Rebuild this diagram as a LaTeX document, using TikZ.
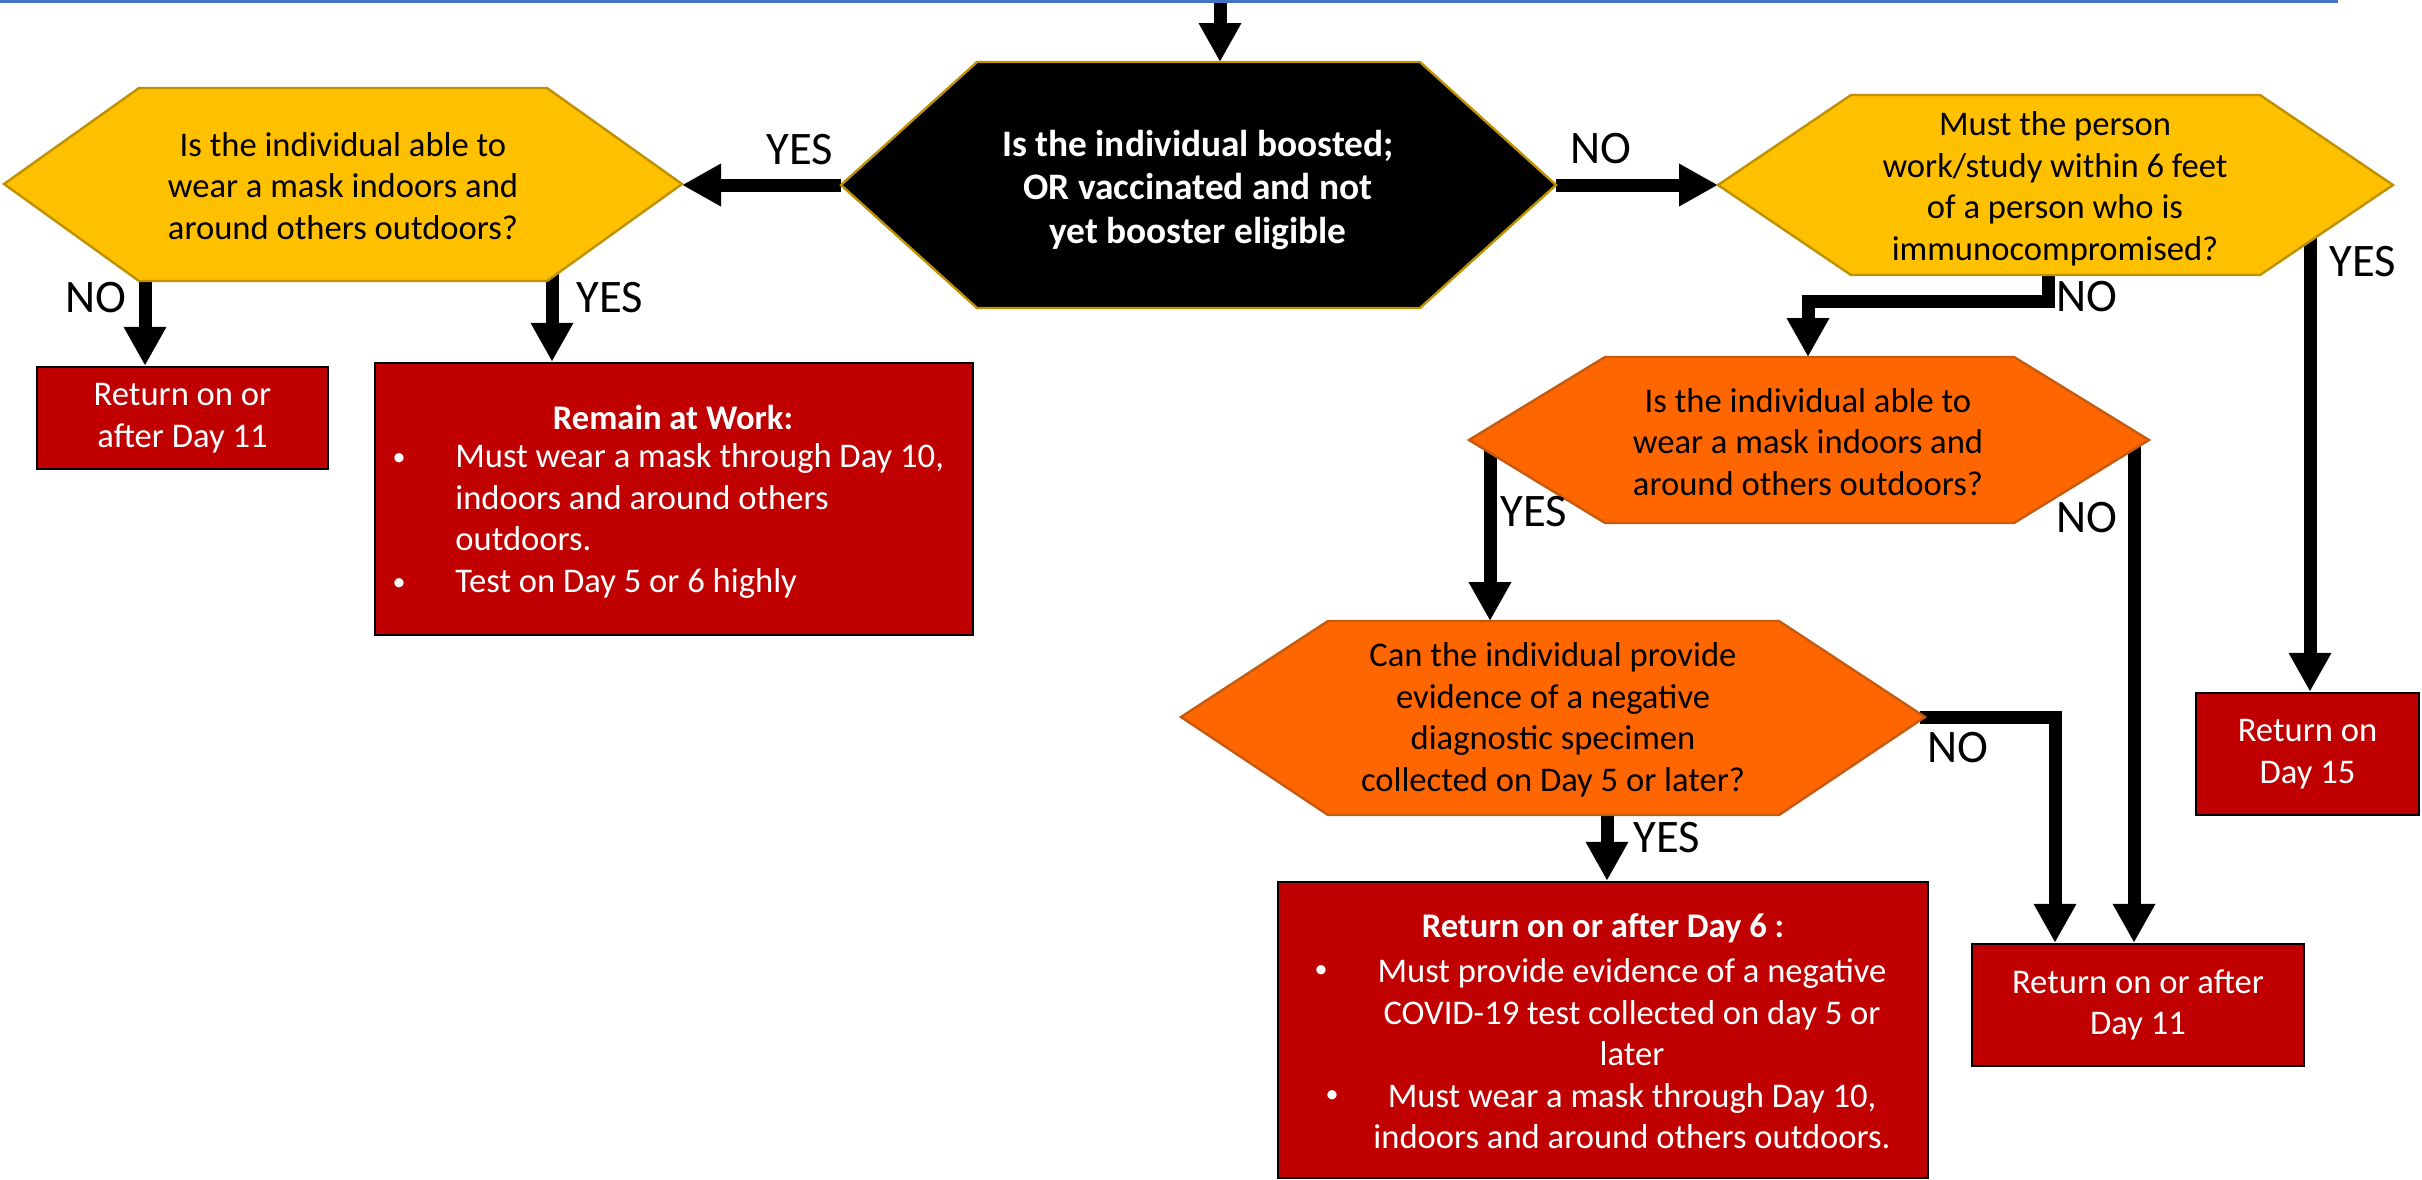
\documentclass[tikz,border=0pt]{standalone}
\usepackage{fontspec}
\setmainfont{Carlito}
\usetikzlibrary{arrows.meta}
\definecolor{ylw}{HTML}{FFC000}
\definecolor{ylwb}{HTML}{BF9000}
\definecolor{org}{HTML}{FF6600}
\definecolor{orgb}{HTML}{C55A11}
\definecolor{redbox}{HTML}{C00000}
\definecolor{blueline}{HTML}{4472C4}
\pgfdeclarelayer{bg}
\pgfsetlayers{bg,main}
\begin{document}
\begin{tikzpicture}[x=0.5pt,y=-0.5pt,
  conn/.style={line width=6.5pt,-{Triangle[width=20pt,length=19.5pt]},line join=miter},
  hexY/.style={fill=ylw,draw=ylwb,line width=1.2pt},
  hexK/.style={fill=black,draw=ylwb,line width=1.2pt},
  hexO/.style={fill=org,draw=orgb,line width=1.2pt},
  box/.style={fill=redbox,draw=black,line width=1.2pt,inner sep=0pt,align=center,text=white,
    font=\fontsize{17.3}{20.75}\selectfont},
  txt/.style={inner sep=0pt,align=center,font=\fontsize{17.3}{20.75}\selectfont},
  txtW/.style={txt,text=white},
  bul/.style={inner sep=0pt,text=white,font=\fontsize{13}{15}\selectfont},
  hdr/.style={inner sep=0pt,text=white,font=\bfseries\fontsize{17.3}{20.75}\selectfont},
  lbl/.style={inner sep=0pt,font=\fontsize{23.3}{28}\selectfont}
]
\useasboundingbox (0,0) rectangle (2422,1179);
\draw[blueline,line width=1.5pt] (0,1) -- (2338,1);

% hexagons
\path[hexK] (841,185) -- (977,62) -- (1420,62) -- (1556,185) -- (1420,308) -- (977,308) -- cycle;
\node[txt,text=white,font=\bfseries\fontsize{18.7}{21.75}\selectfont] (h0) at (1198,190)
  {Is the individual boosted;\\OR vaccinated and not\\yet booster eligible};

\path[hexY] (4,184) -- (139,88) -- (547,88) -- (682,184) -- (547,281) -- (139,281) -- cycle;
\node[txt] (y1) at (343,186) {Is the individual able to\\wear a mask indoors and\\around others outdoors?};

\path[hexY] (1718,185) -- (1851,95) -- (2260,95) -- (2393,185) -- (2260,275) -- (1851,275) -- cycle;
\node[txt] (y2) at (2055,189) {Must the person\\work/study within 6 feet\\of a person who is\\immunocompromised?};

\path[hexO] (1469,440) -- (1605,357) -- (2014,357) -- (2149,440) -- (2014,523) -- (1605,523) -- cycle;
\node[txt] (o1) at (1808,442) {Is the individual able to\\wear a mask indoors and\\around others outdoors?};

\path[hexO] (1181,717) -- (1328,621) -- (1779,621) -- (1925,717) -- (1779,815) -- (1328,815) -- cycle;
\node[txt] (o2) at (1553,720) {Can the individual provide\\evidence of a negative\\diagnostic specimen\\collected on Day 5 or later?};

% boxes
\node[box,minimum width=145.5pt,minimum height=51pt] (r1) at (182.5,418) {Return on or\\after Day 11};
\node[box,minimum width=299pt,minimum height=136pt] (r2) at (674,499) {};
\node[box,minimum width=111.5pt,minimum height=61pt] (r3) at (2307.5,754) {Return on\\Day 15};
\node[box,minimum width=166pt,minimum height=61pt] (r4) at (2138,1005) {Return on or after\\Day 11};
\node[box,minimum width=325pt,minimum height=148pt] (r5) at (1603,1030) {};

\node[hdr] (r2h) at (673,417) {Remain at Work:};
\node[bul] (r2b1) at (399,460) {•};
\node[bul] (r2b2) at (399,585) {•};
\node[txtW,align=left,anchor=west] (r2t) at (455,521)
  {Must wear a mask through Day 10,\\indoors and around others\\outdoors.\\Test on Day 5 or 6 highly};

\node[hdr] (r5h) at (1603,928) {Return on or after Day 6 :};
\node[bul] (r5b1) at (1321,972) {•};
\node[bul] (r5b2) at (1332,1097) {•};
\node[txtW] (r5t) at (1632,1054)
  {Must provide evidence of a negative\\COVID-19 test collected on day 5 or\\later\\Must wear a mask through Day 10,\\indoors and around others outdoors.};

% connection points
\coordinate (top) at (1220,0);
\coordinate (h0-t) at (1220,62);
\coordinate (h0-l) at (841,185);
\coordinate (h0-r) at (1556,185);
\coordinate (y1-r) at (682,185);
\coordinate (y2-l) at (1718,185);
\coordinate (y1-no) at (145,275);
\coordinate (y1-yes) at (552,268);
\coordinate (y2-no) at (2048,268);
\coordinate (y2-bend) at (2048,301);
\coordinate (y2-yes) at (2310,232);
\coordinate (o1-t) at (1808,357);
\coordinate (o1-yes) at (1490,440);
\coordinate (o1-no) at (2134,440);
\coordinate (o2-t) at (1490,621);
\coordinate (o2-r) at (1920,717);
\coordinate (o2-bend) at (2055,717);
\coordinate (o2-yes) at (1607,808);

\begin{pgfonlayer}{bg}
\draw[conn] (top) -- (h0-t);
\draw[conn] (h0-l) -- (y1-r);
\draw[conn] (h0-r) -- (y2-l);
\draw[conn] (y1-no) -- (y1-no |- r1.north);
\draw[conn] (y1-yes) -- (y1-yes |- r2.north);
\draw[conn] (y2-no) -- (y2-bend) -| (o1-t);
\draw[conn] (y2-yes) -- (y2-yes |- r3.north);
\draw[conn] (o1-yes) -- (o2-t);
\draw[conn] (o1-no) -- (o1-no |- r4.north);
\draw[conn] (o2-r) -- (o2-bend) -- (o2-bend |- r4.north);
\draw[conn] (o2-yes) -- (o2-yes |- r5.north);
\end{pgfonlayer}

% labels
\node[lbl] (l1) at (800,150) {YES};
\node[lbl] (l2) at (1601,149) {NO};
\node[lbl] (l3) at (96,298) {NO};
\node[lbl] (l4) at (610,298) {YES};
\node[lbl] (l5) at (2087,297) {NO};
\node[lbl] (l6) at (2363,262) {YES};
\node[lbl] (l7) at (1534,512) {YES};
\node[lbl] (l8) at (2087,518) {NO};
\node[lbl] (l9) at (1958,748) {NO};
\node[lbl] (l10) at (1667,838) {YES};
\end{tikzpicture}
\end{document}
